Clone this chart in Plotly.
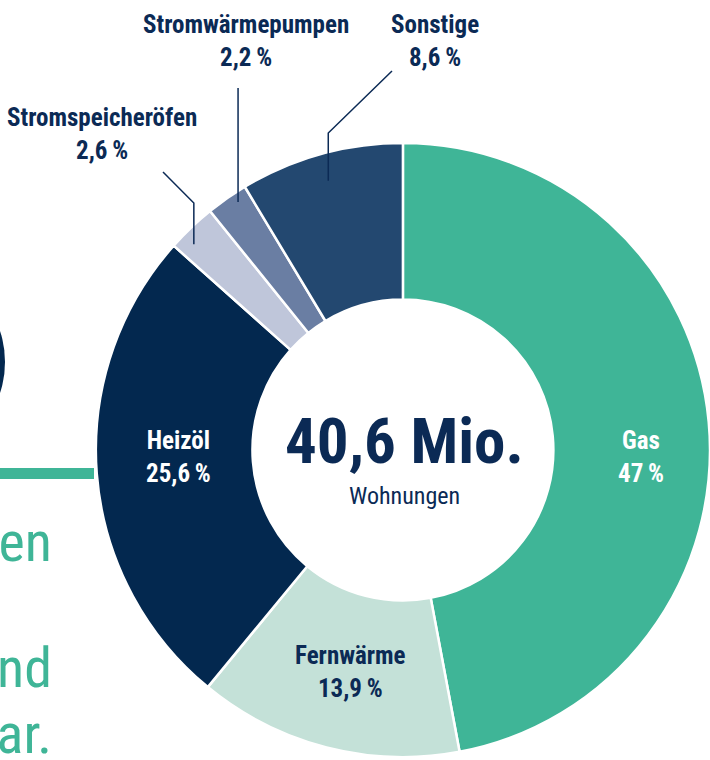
import math
import plotly.graph_objects as go

# ---------------- data ----------------
categories = ["Gas", "Fernwärme", "Heizöl", "Stromspeicheröfen", "Stromwärmepumpen", "Sonstige"]
shares = [47.0, 13.9, 25.6, 2.6, 2.2, 8.6]
share_labels = ["47\u2009%", "13,9\u2009%", "25,6\u2009%", "2,6\u2009%", "2,2\u2009%", "8,6\u2009%"]
center_value = "40,6 Mio."
center_unit = "Wohnungen"

# ---------------- style ----------------
W, H = 710, 760
NAVY = "#0b2a55"
TEAL = "#3fb597"
slice_colors = ["#3fb597", "#c4e1d8", "#03284f", "#bfc6da", "#6a7ea3", "#234870"]
label_colors = ["#ffffff", NAVY, "#ffffff", NAVY, NAVY, NAVY]
FONT = "Roboto Condensed, Liberation Sans Narrow, DejaVu Sans Condensed, sans-serif"

dom_x = [0.135, 1.0]
dom_y = [1 - 758 / H, 1 - 142 / H]
HOLE = 0.49

# label placement (pixel positions, centre of the two-line block)
label_pos = {
    "Gas": (641, 457),
    "Fernwärme": (350, 672),
    "Heizöl": (178, 457),
    "Stromspeicheröfen": (102, 134),
    "Stromwärmepumpen": (246, 41),
    "Sonstige": (435, 41),
}
# leader lines: anchor = (fraction across slice, fraction of outer radius), elbow y, end point
leaders = {
    "Stromspeicheröfen": dict(frac=0.3, rad=0.955, elbow_y=203, end=(163, 172)),
    "Stromwärmepumpen": dict(frac=0.67, rad=0.97, elbow_y=88, end=None),
    "Sonstige": dict(frac=0.5, rad=0.91, elbow_y=133, end=(392, 71)),
}

def px(x, y):
    return x / W, 1 - y / H

# pie geometry in pixels
dw = (dom_x[1] - dom_x[0]) * W
dh = (dom_y[1] - dom_y[0]) * H
R = min(dw, dh) / 2
cx = (dom_x[0] + dom_x[1]) / 2 * W
cy = (1 - (dom_y[0] + dom_y[1]) / 2) * H

def polar(angle_deg, r):
    a = math.radians(angle_deg)
    return cx + r * math.sin(a), cy - r * math.cos(a)

total = sum(shares)
starts = []
acc = 0.0
for s in shares:
    starts.append(acc / total * 360)
    acc += s

fig = go.Figure()
fig.add_trace(go.Pie(
    labels=categories,
    values=shares,
    sort=False,
    direction="clockwise",
    rotation=0,
    hole=HOLE,
    marker=dict(colors=slice_colors, line=dict(color="white", width=2.5)),
    textinfo="none",
    hoverinfo="label+percent",
    showlegend=False,
    domain=dict(x=dom_x, y=dom_y),
))

annotations = []
shapes = []
for i, cat in enumerate(categories):
    txt = f"<b>{cat}</b><br><b>{share_labels[i]}</b>"
    lx, ly = label_pos[cat]
    if cat in leaders:
        cfg = leaders[cat]
        ang = starts[i] + cfg["frac"] * shares[i] / total * 360
        ax_, ay_ = polar(ang, R * cfg["rad"])
        pts = [(ax_, ay_), (ax_, cfg["elbow_y"])]
        if cfg["end"] is not None:
            pts.append(cfg["end"])
        path = ""
        for k, (x, y) in enumerate(pts):
            X, Y = px(x, y)
            path += ("M" if k == 0 else " L") + f" {X:.5f} {Y:.5f}"
        shapes.append(dict(type="path", path=path, xref="paper", yref="paper",
                           line=dict(color=NAVY, width=1.5)))
    X, Y = px(lx, ly)
    annotations.append(dict(x=X, y=Y, xref="paper", yref="paper", text=txt, showarrow=False,
                            xanchor="center", yanchor="middle",
                            font=dict(family=FONT, size=25, color=label_colors[i])))

# center text
X, Y = px(cx + 2, 441)
annotations.append(dict(x=X, y=Y, xref="paper", yref="paper", text=f"<b>{center_value}</b>",
                        showarrow=False, xanchor="center", yanchor="middle",
                        font=dict(family=FONT, size=63, color=NAVY)))
X, Y = px(cx + 2, 496)
annotations.append(dict(x=X, y=Y, xref="paper", yref="paper", text=center_unit,
                        showarrow=False, xanchor="center", yanchor="middle",
                        font=dict(family=FONT, size=24, color=NAVY)))

# cropped page context at the left edge
for word, yc in [("ren", 542), ("nd", 668), ("bar.", 734)]:
    X, Y = px(54, yc)
    annotations.append(dict(x=X, y=Y, xref="paper", yref="paper", text=word, showarrow=False,
                            xanchor="right", yanchor="middle",
                            font=dict(family=FONT, size=56, color=TEAL)))
x0, y0 = px(0, 479)
x1, y1 = px(94, 468)
shapes.append(dict(type="rect", xref="paper", yref="paper", x0=x0, x1=x1, y0=y0, y1=y1,
                   fillcolor=TEAL, line=dict(width=0)))
ex0, ey0 = px(-65, 422)
ex1, ey1 = px(5, 302)
shapes.append(dict(type="circle", xref="paper", yref="paper", x0=ex0, x1=ex1, y0=ey0, y1=ey1,
                   fillcolor="#03284f", line=dict(width=0)))

fig.update_layout(
    width=W, height=H,
    margin=dict(l=0, r=0, t=0, b=0),
    paper_bgcolor="white",
    plot_bgcolor="white",
    annotations=annotations,
    shapes=shapes,
    font=dict(family=FONT),
)

fig.write_html(
    "out.html",
    config={"displayModeBar": False},
    post_script="document.body.style.margin='0';document.body.style.padding='0';"
                "document.documentElement.style.overflow='hidden';",
)
